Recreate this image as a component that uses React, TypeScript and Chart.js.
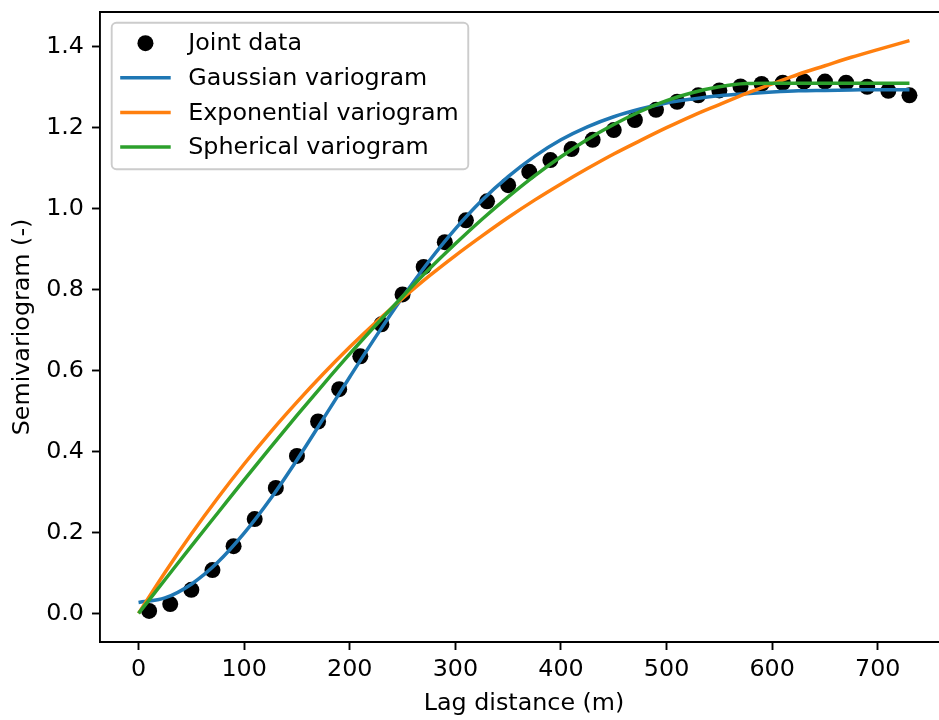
import React, { useEffect, useRef } from "react";
import { Chart, registerables } from "chart.js";

Chart.register(...registerables);

// ---- data ----
const lagDistance = [10, 30, 50, 70, 90, 110, 130, 150, 170, 190, 210, 230, 250, 270, 290, 310, 330, 350, 370, 390, 410, 430, 450, 470, 490, 510, 530, 550, 570, 590, 610, 630, 650, 670, 690, 710, 730];
const jointData = [0.006, 0.023, 0.058, 0.107, 0.166, 0.233, 0.31, 0.389, 0.474, 0.554, 0.635, 0.714, 0.788, 0.856, 0.917, 0.971, 1.018, 1.058, 1.091, 1.12, 1.147, 1.17, 1.194, 1.219, 1.244, 1.264, 1.28, 1.292, 1.302, 1.308, 1.311, 1.314, 1.314, 1.311, 1.301, 1.291, 1.28];

const modelLag = [0, 25, 50, 75, 100, 125, 150, 175, 200, 225, 250, 275, 300, 325, 350, 375, 400, 425, 450, 475, 500, 525, 550, 575, 600, 625, 650, 675, 700, 730];
const gaussianFit = [0.027, 0.038, 0.072, 0.126, 0.198, 0.283, 0.379, 0.481, 0.584, 0.685, 0.781, 0.870, 0.950, 1.020, 1.079, 1.129, 1.170, 1.202, 1.227, 1.246, 1.261, 1.271, 1.279, 1.284, 1.288, 1.291, 1.292, 1.293, 1.294, 1.294];
const exponentialFit = [0.0, 0.101, 0.196, 0.285, 0.369, 0.448, 0.522, 0.592, 0.658, 0.720, 0.778, 0.833, 0.884, 0.932, 0.978, 1.021, 1.061, 1.099, 1.135, 1.168, 1.200, 1.230, 1.257, 1.284, 1.308, 1.332, 1.353, 1.374, 1.393, 1.415];
const sphericalFit = [0.0, 0.083, 0.166, 0.248, 0.330, 0.410, 0.489, 0.566, 0.641, 0.713, 0.783, 0.850, 0.913, 0.973, 1.029, 1.081, 1.128, 1.171, 1.208, 1.240, 1.267, 1.287, 1.301, 1.309, 1.31, 1.31, 1.31, 1.31, 1.31, 1.31];

const xTicks = [0, 100, 200, 300, 400, 500, 600, 700];
const yTicks = [0.0, 0.2, 0.4, 0.6, 0.8, 1.0, 1.2, 1.4];

const xLabel = "Lag distance (m)";
const yLabel = "Semivariogram (-)";
const seriesLabels = ["Joint data", "Gaussian variogram", "Exponential variogram", "Spherical variogram"];
const seriesColors = ["#000000", "#1f77b4", "#ff7f0e", "#2ca02c"];

const FONT = "DejaVu Sans";
const FS = 23.8;
const LW = 3.5;
const AXW = 1.9;

const frameAndLegend = {
  id: "frameAndLegend",
  afterDraw(chart: any) {
    const { ctx, chartArea } = chart;
    ctx.save();
    ctx.strokeStyle = "#000";
    ctx.lineWidth = AXW;
    ctx.beginPath();
    ctx.moveTo(chartArea.left - AXW / 2, chartArea.top);
    ctx.lineTo(chartArea.right + AXW / 2, chartArea.top);
    ctx.moveTo(chartArea.right, chartArea.top);
    ctx.lineTo(chartArea.right, chartArea.bottom);
    ctx.stroke();

    ctx.font = `${FS}px "${FONT}"`;
    const rowH = 34.6;
    const boxL = chartArea.left + 11.7;
    const boxT = chartArea.top + 10.7;
    const handleL = boxL + 8.5;
    const handleW = 50.5;
    const textX = boxL + 76.5;
    let maxW = 0;
    seriesLabels.forEach((l) => { maxW = Math.max(maxW, ctx.measureText(l).width); });
    const boxW = textX + maxW + 9.5 - boxL;
    const boxH = 146.6;
    const r = 4.7;
    ctx.beginPath();
    ctx.moveTo(boxL + r, boxT);
    ctx.lineTo(boxL + boxW - r, boxT);
    ctx.arcTo(boxL + boxW, boxT, boxL + boxW, boxT + r, r);
    ctx.lineTo(boxL + boxW, boxT + boxH - r);
    ctx.arcTo(boxL + boxW, boxT + boxH, boxL + boxW - r, boxT + boxH, r);
    ctx.lineTo(boxL + r, boxT + boxH);
    ctx.arcTo(boxL, boxT + boxH, boxL, boxT + boxH - r, r);
    ctx.lineTo(boxL, boxT + r);
    ctx.arcTo(boxL, boxT, boxL + r, boxT, r);
    ctx.closePath();
    ctx.fillStyle = "rgba(255,255,255,0.8)";
    ctx.fill();
    ctx.strokeStyle = "#cccccc";
    ctx.lineWidth = AXW;
    ctx.stroke();

    const firstY = boxT + 20.5;
    seriesLabels.forEach((label, i) => {
      const y = firstY + i * rowH;
      if (i === 0) {
        ctx.fillStyle = seriesColors[0];
        ctx.beginPath();
        ctx.arc(handleL + handleW / 2, y, 8, 0, Math.PI * 2);
        ctx.fill();
      } else {
        ctx.strokeStyle = seriesColors[i];
        ctx.lineWidth = LW;
        ctx.beginPath();
        ctx.moveTo(handleL, y);
        ctx.lineTo(handleL + handleW, y);
        ctx.stroke();
      }
      ctx.fillStyle = "#000";
      ctx.textAlign = "left";
      ctx.textBaseline = "middle";
      ctx.fillText(label, textX, y + 1);
    });
    ctx.restore();
  },
};

export default function App() {
  const ref = useRef<HTMLCanvasElement>(null);

  useEffect(() => {
    if (!ref.current) return;
    const lineDs = (label: string, color: string, vals: number[], order: number) => ({
      type: "line" as const,
      label,
      data: modelLag.map((x, i) => ({ x, y: vals[i] })),
      borderColor: color,
      backgroundColor: color,
      borderWidth: LW,
      pointRadius: 0,
      fill: false,
      cubicInterpolationMode: "monotone" as const,
      order,
    });

    const chart = new Chart(ref.current, {
      type: "scatter",
      data: {
        datasets: [
          {
            type: "scatter",
            label: seriesLabels[0],
            data: lagDistance.map((x, i) => ({ x, y: jointData[i] })),
            backgroundColor: seriesColors[0],
            borderWidth: 0,
            pointRadius: 8,
            order: 4,
          } as any,
          lineDs(seriesLabels[1], seriesColors[1], gaussianFit, 3),
          lineDs(seriesLabels[2], seriesColors[2], exponentialFit, 2),
          lineDs(seriesLabels[3], seriesColors[3], sphericalFit, 1),
        ],
      },
      options: {
        animation: false,
        responsive: false,
        devicePixelRatio: 1,
        layout: { padding: { top: 12, right: 2, left: 0, bottom: 0 } },
        plugins: { legend: { display: false }, tooltip: { enabled: false } },
        scales: {
          x: {
            type: "linear",
            min: -36.5,
            max: 766.5,
            afterBuildTicks: (s: any) => { s.ticks = xTicks.map((v) => ({ value: v })); },
            afterFit: (s: any) => { s.height = 78; s.paddingLeft = 0; s.paddingRight = 0; },
            ticks: {
              color: "#000",
              font: { family: FONT, size: FS },
              padding: 6,
              maxRotation: 0,
              callback: (v: any) => String(v),
            },
            grid: { drawOnChartArea: false, drawTicks: true, tickLength: 8, tickWidth: AXW, tickColor: "#000" },
            border: { display: true, color: "#000", width: AXW },
            title: { display: true, text: xLabel, color: "#000", font: { family: FONT, size: FS, lineHeight: 1.2 }, padding: { top: 0, bottom: 2 } },
          },
          y: {
            type: "linear",
            min: -0.0708,
            max: 1.4858,
            afterBuildTicks: (s: any) => { s.ticks = yTicks.map((v) => ({ value: v })); },
            afterFit: (s: any) => { s.width = 100; s.paddingTop = 0; s.paddingBottom = 0; },
            ticks: {
              color: "#000",
              font: { family: FONT, size: FS },
              padding: 8,
              callback: (v: any) => Number(v).toFixed(1),
            },
            grid: { drawOnChartArea: false, drawTicks: true, tickLength: 8, tickWidth: AXW, tickColor: "#000" },
            border: { display: true, color: "#000", width: AXW },
            title: { display: true, text: yLabel, color: "#000", font: { family: FONT, size: FS, lineHeight: 1.2 }, padding: { top: 9, bottom: 0 } },
          },
        },
      },
      plugins: [frameAndLegend],
    });
    return () => chart.destroy();
  }, []);

  return (
    <div style={{ position: "absolute", left: 0, top: 0, width: 939, height: 720, overflow: "hidden", background: "#fff" }}>
      <canvas ref={ref} width={956} height={720} style={{ display: "block", width: 956, height: 720 }} />
    </div>
  );
}
